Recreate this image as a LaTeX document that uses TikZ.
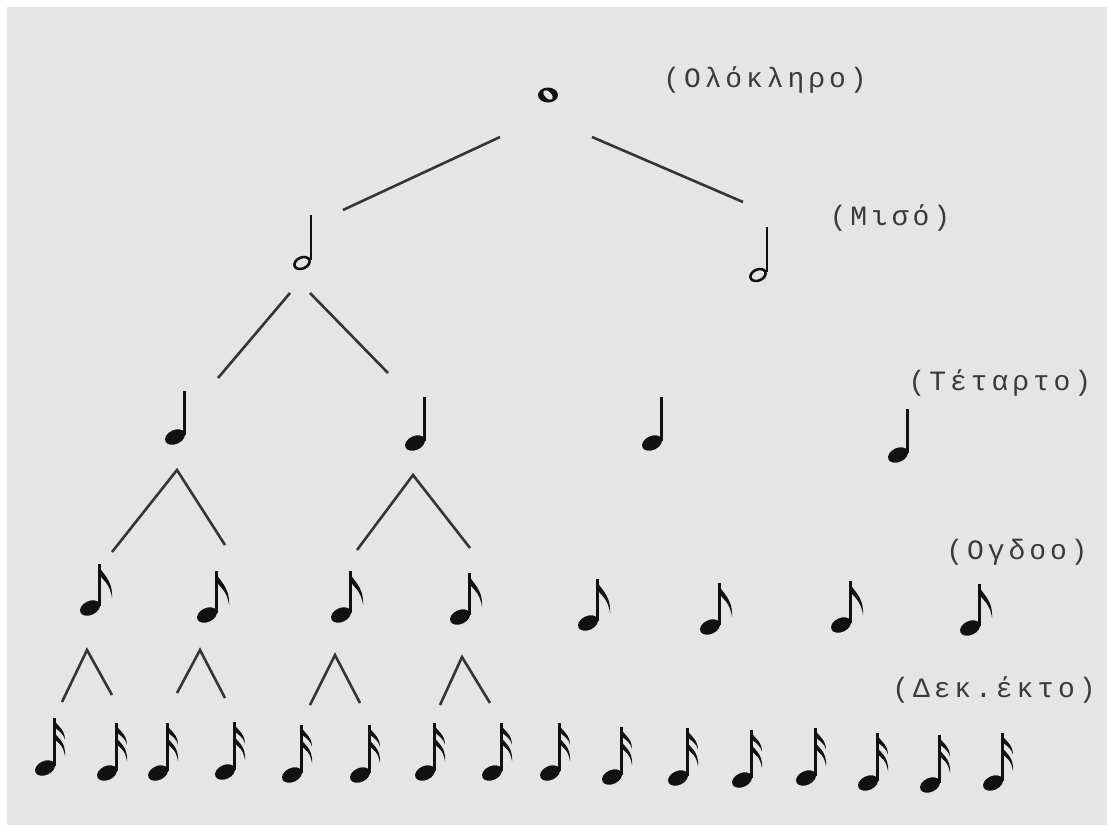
\documentclass[tikz,border=0pt]{standalone}
\usepackage{fontspec}
\newfontfamily\lblfont[LetterSpace=14]{Liberation Mono}
\usetikzlibrary{calc}
\definecolor{bg}{HTML}{E5E5E5}
\definecolor{ink}{HTML}{111111}
\definecolor{linecol}{HTML}{353535}
\definecolor{txt}{HTML}{3A3A3A}
\tikzset{
  conn/.style={draw=linecol, line width=2.6pt},
  lbl/.style={text=txt, font=\lblfont\fontsize{28}{28}\selectfont, inner sep=0pt},
  pics/wholenote/.style={code={
    \fill[ink, even odd rule] (0,0) ellipse [x radius=10, y radius=7.5]
      (0,0) ellipse [x radius=6, y radius=3.3, rotate=-45];
  }},
  pics/halfnote/.style={code={
    \draw[ink, line width=2.6pt] (0,0) ellipse [x radius=8, y radius=5.5, rotate=25];
    \draw[ink, line width=2.4pt] (9,-3) -- (9,-48);
  }},
  pics/quarternote/.style={code={
    \fill[ink] (0,0) ellipse [x radius=10.5, y radius=7, rotate=25];
    \draw[ink, line width=2.6pt] (9.5,-2) -- (9.5,-46);
  }},
  pics/eighthnote/.style={code={
    \fill[ink] (0,0) ellipse [x radius=10.5, y radius=7, rotate=25];
    \draw[ink, line width=2.6pt] (9.5,-2) -- (9.5,-44);
    \fill[ink] (8.3,-44) .. controls (11,-34) and (23,-30) .. (22,-10)
      .. controls (20,-25) and (13,-27) .. (8.3,-35) -- cycle;
  }},
  pics/sixteenthnote/.style={code={
    \fill[ink] (0,0) ellipse [x radius=10.5, y radius=7, rotate=25];
    \draw[ink, line width=2.6pt] (9.5,-2) -- (9.5,-50);
    \fill[ink] (8.3,-50) .. controls (11,-42) and (20,-40) .. (20,-28)
      .. controls (18,-36) and (13,-37) .. (8.3,-42) -- cycle;
    \fill[ink] (8.3,-38) .. controls (11,-30) and (21,-28) .. (20,-12)
      .. controls (18,-24) and (13,-25) .. (8.3,-30) -- cycle;
  }}
}
\begin{document}
\begin{tikzpicture}[x=1pt, y=-1pt]
\useasboundingbox (0,0) rectangle (1107,825);
\fill[white] (0,0) rectangle (1107,825);
\fill[bg] (7,7) rectangle (1107,825);

% note positions (head centres)
\coordinate (w) at (548,95);
\coordinate (h1) at (302,263);
\coordinate (h2) at (758,275);
\coordinate (q1) at (175,437);
\coordinate (q2) at (415,443);
\coordinate (q3) at (652,443);
\coordinate (q4) at (898,455);
\coordinate (e1) at (90,608);
\coordinate (e2) at (207,615);
\coordinate (e3) at (341,615);
\coordinate (e4) at (460,617);
\coordinate (e5) at (588,623);
\coordinate (e6) at (710,627);
\coordinate (e7) at (841,625);
\coordinate (e8) at (970,628);
\coordinate (s1) at (45,768);
\coordinate (s2) at (107,773);
\coordinate (s3) at (158,773);
\coordinate (s4) at (225,772);
\coordinate (s5) at (292,775);
\coordinate (s6) at (360,775);
\coordinate (s7) at (425,773);
\coordinate (s8) at (492,773);
\coordinate (s9) at (550,773);
\coordinate (s10) at (612,777);
\coordinate (s11) at (678,778);
\coordinate (s12) at (742,780);
\coordinate (s13) at (806,778);
\coordinate (s14) at (868,783);
\coordinate (s15) at (930,785);
\coordinate (s16) at (993,783);

% notes
\pic at (w) {wholenote};
\foreach \n in {h1,h2} \pic at (\n) {halfnote};
\foreach \n in {q1,q2,q3,q4} \pic at (\n) {quarternote};
\foreach \n in {e1,e2,e3,e4,e5,e6,e7,e8} \pic at (\n) {eighthnote};
\foreach \n in {s1,s2,s3,s4,s5,s6,s7,s8,s9,s10,s11,s12,s13,s14,s15,s16} \pic at (\n) {sixteenthnote};

% connectors
\draw[conn] ($(w)+(-48,42)$) -- ($(h1)+(41,-53)$);
\draw[conn] ($(w)+(44,42)$) -- ($(h2)+(-15,-73)$);
\draw[conn] ($(h1)+(-12,30)$) -- ($(q1)+(43,-59)$);
\draw[conn] ($(h1)+(8,30)$) -- ($(q2)+(-27,-70)$);
\draw[conn] ($(e1)+(22,-56)$) -- ($(q1)+(2,33)$) -- ($(e2)+(18,-70)$);
\draw[conn] ($(e3)+(16,-65)$) -- ($(q2)+(-2,32)$) -- ($(e4)+(10,-69)$);
\draw[conn] ($(s1)+(17,-66)$) -- ($(e1)+(-3,42)$) -- ($(s2)+(5,-78)$);
\draw[conn] ($(s3)+(19,-80)$) -- ($(e2)+(-7,35)$) -- ($(s4)+(0,-74)$);
\draw[conn] ($(s5)+(18,-70)$) -- ($(e3)+(-6,40)$) -- ($(s6)+(0,-72)$);
\draw[conn] ($(s7)+(15,-68)$) -- ($(e4)+(2,40)$) -- ($(s8)+(-2,-70)$);

% labels
\node[lbl] (l1) at (765,80) {(Ολόκληρο)};
\node[lbl] (l2) at (890,218) {(Μισό)};
\node[lbl] (l3) at (1000,383) {(Τέταρτο)};
\node[lbl] (l4) at (1017,552) {(Ογδοο)};
\node[lbl] (l5) at (994,690) {(Δεκ.έκτο)};
\end{tikzpicture}
\end{document}
